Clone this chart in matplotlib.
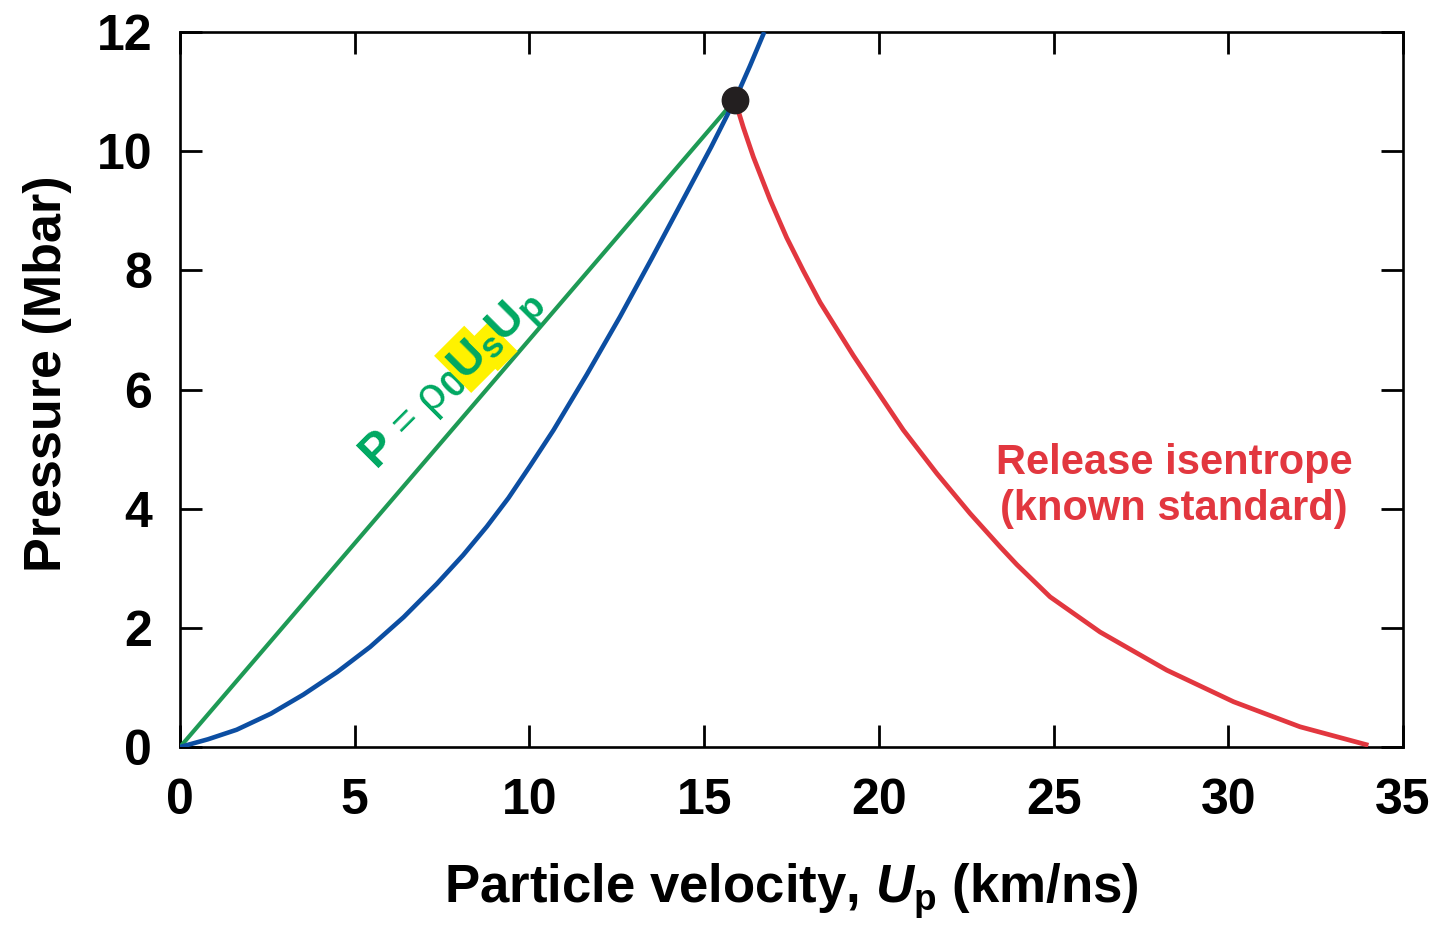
import numpy as np
import matplotlib.pyplot as plt

plt.rcParams['font.family'] = ['Liberation Sans', 'DejaVu Sans']
plt.rcParams['mathtext.fontset'] = 'custom'
plt.rcParams['mathtext.rm'] = 'Liberation Sans:bold'
plt.rcParams['mathtext.bf'] = 'Liberation Sans:bold'
plt.rcParams['mathtext.it'] = 'Liberation Sans:italic:bold'

# Hugoniot of the sample (km/ns, Mbar)
hug_up = [0.0, 0.80, 1.62, 2.60, 3.53, 4.50, 5.44, 6.40, 7.35, 8.10, 8.78,
          9.40, 10.02, 10.69, 11.64, 12.59, 13.50, 14.50, 15.20, 15.88,
          16.31, 16.72]
hug_p = [0.0, 0.13, 0.29, 0.56, 0.88, 1.26, 1.68, 2.18, 2.74, 3.22, 3.70,
         4.18, 4.72, 5.32, 6.25, 7.22, 8.20, 9.30, 10.07, 10.86,
         11.43, 12.00]

# Rayleigh line P = rho0 Us Up
ray_up = [0.0, 15.88]
ray_p = [0.0, 10.86]

# release isentrope of the standard
rel_up = [15.88, 16.12, 16.41, 16.89, 17.36, 17.84, 18.32, 19.27, 19.84, 20.70,
          21.66, 22.61, 23.47, 23.95, 24.90, 26.33, 28.24, 30.15, 32.05, 34.01]
rel_p = [10.86, 10.40, 9.90, 9.18, 8.55, 7.99, 7.46, 6.57, 6.07, 5.32,
         4.59, 3.92, 3.36, 3.06, 2.52, 1.93, 1.29, 0.76, 0.34, 0.03]

# impedance-match point
match_up = 15.88
match_p = 10.86

xticks = [0, 5, 10, 15, 20, 25, 30, 35]
yticks = [0, 2, 4, 6, 8, 10, 12]

blue = '#0C4EA2'
green_line = '#1E9A55'
green_text = '#00A862'
red = '#E2373F'

fig = plt.figure(figsize=(14.39, 9.25), dpi=100)
ax = fig.add_axes([0.1251, 0.1924, 0.8499, 0.773])

ax.plot(ray_up, ray_p, color=green_line, lw=3.0, solid_capstyle='round', zorder=3)
ax.plot(hug_up, hug_p, color=blue, lw=3.3, solid_capstyle='butt',
        solid_joinstyle='round', zorder=4)
ax.plot(rel_up, rel_p, color=red, lw=3.4, solid_capstyle='butt',
        solid_joinstyle='round', zorder=3)
ax.plot([match_up], [match_p], 'o', color='#231F20', ms=19, zorder=6)

ax.set_xlim(0, 35)
ax.set_ylim(0, 12)
ax.set_xticks(xticks)
ax.set_yticks(yticks)
ax.tick_params(direction='in', length=16, width=2.0, top=True, right=True,
               labelsize=36)
ax.tick_params(axis='x', pad=22)
ax.tick_params(axis='y', pad=20)
for lab in ax.get_xticklabels() + ax.get_yticklabels():
    lab.set_fontweight('bold')
for sp in ax.spines.values():
    sp.set_linewidth(1.9)

ax.set_xlabel(r'Particle velocity, $U_\mathrm{p}$ (km/ns)', fontsize=38,
              fontweight='bold', labelpad=27)
ax.set_ylabel('Pressure (Mbar)', fontsize=37.5, fontweight='bold')
ax.yaxis.set_label_coords(-0.088, 0.522)

ax.text(28.45, 4.38, 'Release isentrope\n(known standard)', color=red,
        fontsize=30, fontweight='bold', ha='center', va='center',
        linespacing=1.22)

# rotated label along the Rayleigh line, built piece by piece
fig.canvas.draw()
renderer = fig.canvas.get_renderer()
angle = 45.0
ca, sa = np.cos(np.radians(angle)), np.sin(np.radians(angle))
fs = 34
pieces = [
    ('P', fs, 'bold', 0.0, False),
    (' = ', fs * 0.85, 'normal', 0.0, False),
    ('ρ', fs, 'normal', 0.0, False),
    ('0', fs * 0.78, 'bold', -0.18, False),
    ('U', fs, 'bold', 0.0, True),
    ('s', fs * 0.75, 'bold', -0.18, True),
    ('U', fs, 'bold', 0.0, False),
    ('p', fs * 0.78, 'bold', -0.18, False),
]
px, py = 376.0, 925.0 - 468.0
inv = ax.transData.inverted()
for s, size, weight, drop, hl in pieces:
    probe = ax.text(0, 0, s, fontsize=size, fontweight=weight)
    w = probe.get_window_extent(renderer).width
    probe.remove()
    off = drop * size * 100 / 72
    qx, qy = px - sa * off, py + ca * off
    xd, yd = inv.transform((qx, qy))
    kw = dict(fontsize=size, fontweight=weight, color=green_text,
              rotation=angle, rotation_mode='anchor', ha='left',
              va='baseline', zorder=5)
    if hl:
        kw['bbox'] = dict(fc='#FFF200', ec='none', pad=3)
    ax.text(xd, yd, s, **kw)
    px += w * ca
    py += w * sa

fig.savefig('out.png', dpi=100)
